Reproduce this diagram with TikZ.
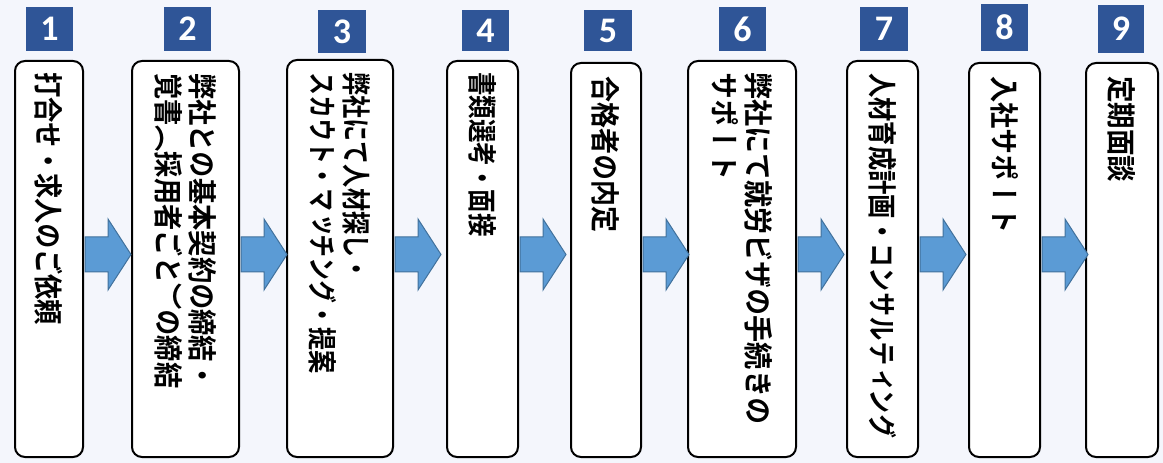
\documentclass[tikz,border=0pt]{standalone}
\usepackage{fontspec}
\newfontfamily\vjp[Vertical=RotatedGlyphs]{Noto Sans CJK JP Bold}
\newfontfamily\numfont{Carlito}
\usetikzlibrary{calc,fit}
\definecolor{bgc}{RGB}{244,246,252}
\definecolor{numblue}{RGB}{47,85,151}
\definecolor{arrfill}{RGB}{91,155,213}
\definecolor{arrline}{RGB}{65,113,156}
\tikzset{
  stepbox/.style={draw=black, line width=1.5pt, fill=white, rounded corners=7.5pt, inner sep=0pt},
  numsq/.style={fill=numblue, inner sep=0pt},
  numtxt/.style={inner sep=0pt, text=white, font=\numfont\bfseries\fontsize{27pt}{27pt}\selectfont},
  vtext/.style={rotate=-90, xscale=#1, anchor=west, inner sep=0pt, align=left, font=\vjp\fontsize{22pt}{25.5pt}\selectfont},
  blockarr/.style={fill=arrfill, draw=arrline, line width=0.75pt},
}
\newcommand{\flowarr}[2]{%
  \draw[blockarr] ($(#1.east |- ay)+(1,-17.5)$) -- ($(#1.east |- ay)+(24,-17.5)$)
    -- ($(#1.east |- ay)+(24,-35.5)$) -- ($(#1.east |- ay)+(47,0)$)
    -- ($(#1.east |- ay)+(24,35.5)$) -- ($(#1.east |- ay)+(24,17.5)$)
    -- ($(#1.east |- ay)+(1,17.5)$) -- cycle;}
\newcommand{\numbox}[6]{%
  \node[numsq, fit={(#2,#3) (#4,#5)}] (#1) {};
  \node[numtxt] (#1t) at (#1.center) {#6};}
\begin{document}
\begin{tikzpicture}[x=0.75pt,y=-0.75pt]
\fill[bgc] (0,0) rectangle (1163,463);
\useasboundingbox (0,0) rectangle (1163,463);
\coordinate (ay) at (0,254.5);
% number squares
\numbox{n1}{26}{7}{73}{51}{1}
\numbox{n2}{164}{7}{211}{51}{2}
\numbox{n3}{318}{10}{366}{53}{3}
\numbox{n4}{462}{10}{509}{51}{4}
\numbox{n5}{584}{10}{632}{51}{5}
\numbox{n6}{719}{7}{766}{51}{6}
\numbox{n7}{860}{7}{908}{51}{7}
\numbox{n8}{981}{4}{1028}{51}{8}
\numbox{n9}{1098}{5}{1144}{53}{9}
% step boxes
\node[stepbox, fit={(15,61) (83,457)}] (b1) {};
\node[stepbox, fit={(132,61) (239,457)}] (b2) {};
\node[stepbox, fit={(287,60) (393,457)}] (b3) {};
\node[stepbox, fit={(447,61) (518,457)}] (b4) {};
\node[stepbox, fit={(571,63) (641,457)}] (b5) {};
\node[stepbox, fit={(688,61) (796,457)}] (b6) {};
\node[stepbox, fit={(847,61) (918,457)}] (b7) {};
\node[stepbox, fit={(969,63) (1040,457)}] (b8) {};
\node[stepbox, fit={(1086,63) (1158,457)}] (b9) {};
% arrows
\flowarr{b1}{b2}
\flowarr{b2}{b3}
\flowarr{b3}{b4}
\flowarr{b4}{b5}
\flowarr{b5}{b6}
\flowarr{b6}{b7}
\flowarr{b7}{b8}
\flowarr{b8}{b9}
% texts
\node[vtext=0.862] (t1) at ($(b1.north)+(0,12)$) {打合せ・求人のご依頼};
\node[vtext=0.895] (t2) at ($(b2.north)+(0,13)$) {弊社との基本契約の締結・\\覚書（採用者ごと）の締結};
\node[vtext=0.79] (t3) at ($(b3.north)+(0,13)$) {弊社にて人材探し・\\スカウト・マッチング・提案};
\node[vtext=0.80] (t4) at ($(b4.north)+(0,12)$) {書類選考・面接};
\node[vtext=0.885] (t5) at ($(b5.north)+(0,14)$) {合格者の内定};
\node[vtext=0.923] (t6) at ($(b6.north)+(0,12)$) {弊社にて就労ビザの手続きの\\サポート};
\node[vtext=0.83] (t7) at ($(b7.north)+(0,13)$) {人材育成計画・コンサルティング};
\node[vtext=0.895] (t8) at ($(b8.north)+(0,14)$) {入社サポート};
\node[vtext=0.904] (t9) at ($(b9.north)+(0,14)$) {定期面談};
\end{tikzpicture}
\end{document}
